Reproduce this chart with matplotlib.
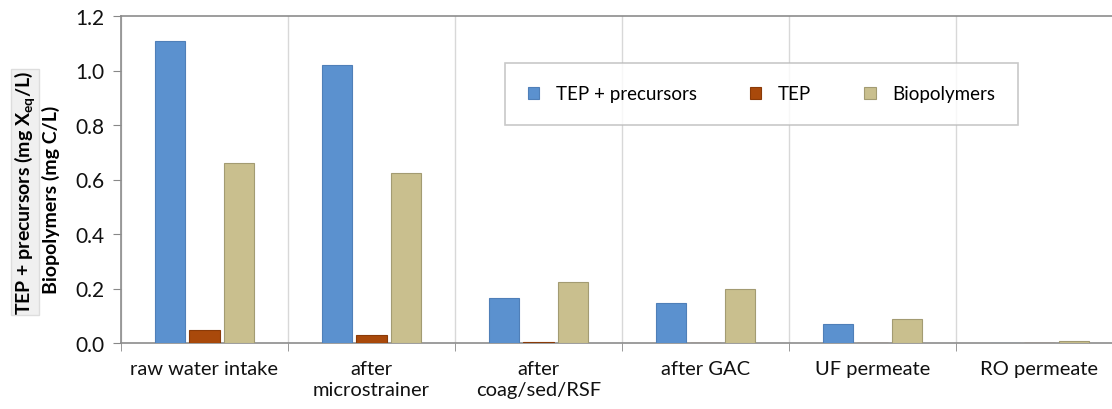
import matplotlib
matplotlib.use("Agg")
import matplotlib.pyplot as plt
import numpy as np

categories = ["raw water intake", "after\nmicrostrainer", "after\ncoag/sed/RSF",
              "after GAC", "UF permeate", "RO permeate"]
tep_precursors = [1.11, 1.02, 0.165, 0.145, 0.068, 0.0]
tep = [0.048, 0.03, 0.005, 0.0, 0.0, 0.0]
biopolymers = [0.66, 0.625, 0.225, 0.198, 0.088, 0.008]
series_names = ["TEP + precursors", "TEP", "Biopolymers"]
yticks = [0.0, 0.2, 0.4, 0.6, 0.8, 1.0, 1.2]

font = ["Lato", "DejaVu Sans"]
plt.rcParams["font.family"] = font

fig = plt.figure(figsize=(11.12, 4.10), dpi=100)
ax = fig.add_axes([121/1112, 1-344/410, (1112-121)/1112, 327/410])

x = np.arange(len(categories))
w = 0.18
step = 0.207
colors = ["#5B91CF", "#A9490B", "#C9BF8E"]
edges = ["#4F7FB8", "#8A3A08", "#A39B72"]
for i, (vals, name) in enumerate(zip([tep_precursors, tep, biopolymers], series_names)):
    ax.bar(x + (i-1)*step, vals, width=w, color=colors[i], edgecolor=edges[i],
           linewidth=0.8, label=name, zorder=3)

ax.set_xlim(-0.5, -0.5 + 991/167)
ax.set_ylim(0, 1.2)
ax.set_yticks(yticks)
ax.set_yticklabels([f"{v:.1f}" for v in yticks], fontsize=15, color="#111111")
ax.set_xticks(x)
ax.set_xticklabels(categories, fontsize=14.5, color="#111111", linespacing=1.3)
ax.set_xticks(np.arange(len(categories)) - 0.5, minor=True)
ax.tick_params(axis="x", which="major", length=0, pad=12)
ax.tick_params(axis="x", which="minor", length=6, color="#888888", direction="out")
ax.tick_params(axis="y", length=6, color="#888888", direction="out", pad=6)
ax.grid(axis="x", which="minor", color="#D8D8D8", linewidth=1.0, zorder=0)

for s in ["left", "bottom", "top"]:
    ax.spines[s].set_color("#8C8C8C")
    ax.spines[s].set_linewidth(1.2)
ax.spines["right"].set_visible(False)

leg = ax.legend(loc="lower left", bbox_to_anchor=((505-121)/991, (344-126)/327, (1018-505)/991, 63/327),
                mode="expand", ncol=3, fontsize=13.5, frameon=True, fancybox=False,
                edgecolor="#BBBBBB", handlelength=0.6, handleheight=0.6, handletextpad=0.9,
                columnspacing=1.5, borderpad=1.2, borderaxespad=0)
leg.get_frame().set_linewidth(1.2)

fig.text(25/1112, 1-193/410, "TEP + precursors (mg X$_{\\mathregular{eq}}$/L)", rotation=90,
         ha="center", va="center", fontsize=14, fontweight="bold",
         bbox=dict(facecolor="#F0F0F0", edgecolor="#DDDDDD", pad=1.0))
fig.text(51/1112, 1-200/410, "Biopolymers (mg C/L)", rotation=90,
         ha="center", va="center", fontsize=14, fontweight="bold")

fig.savefig("out.png", dpi=100)
